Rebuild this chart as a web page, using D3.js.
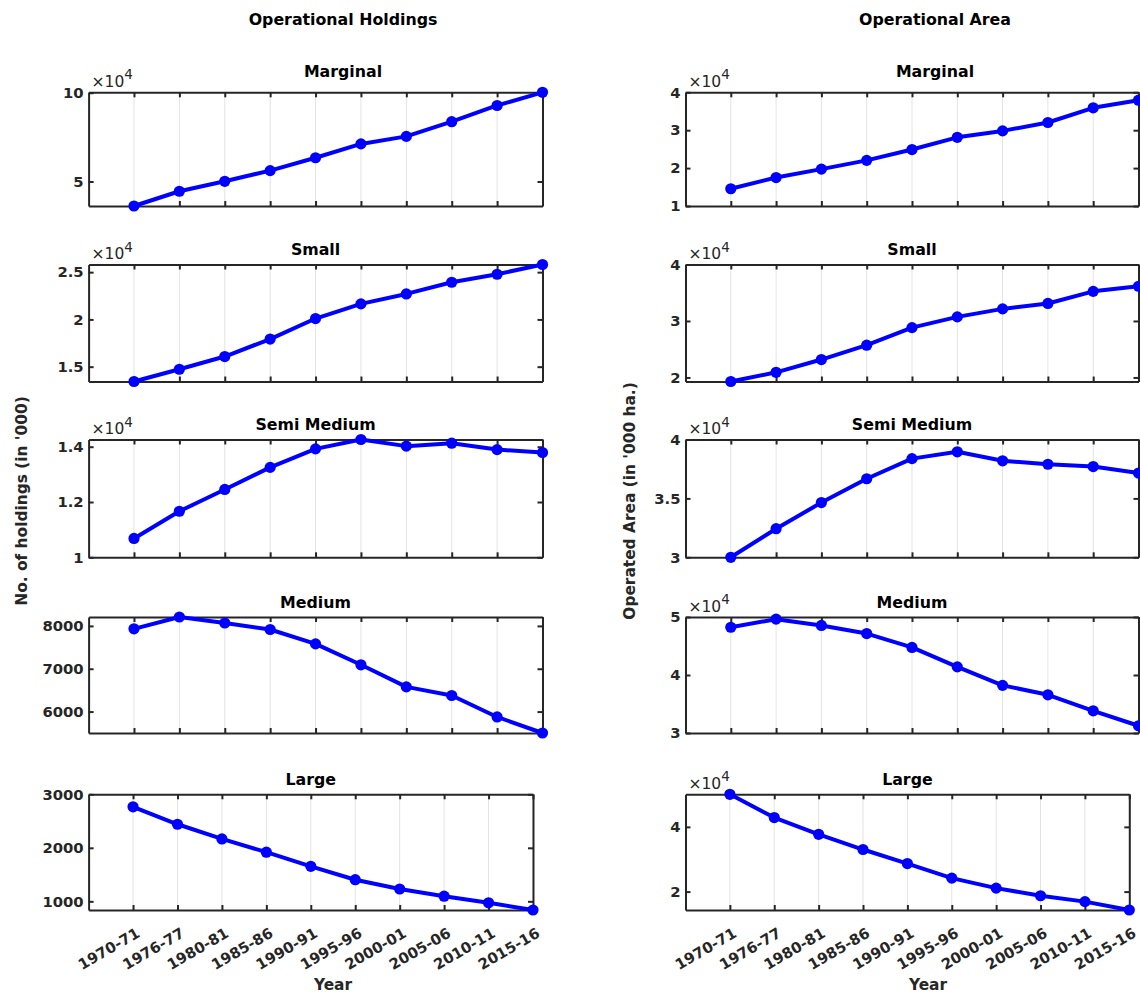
<!DOCTYPE html>
<html>
<head>
<meta charset="utf-8">
<script src="https://cdn.jsdelivr.net/npm/d3@7"></script>
<style>
  body { margin: 0; background: #fff; }
  text { font-family: "DejaVu Sans", sans-serif; }
</style>
</head>
<body>
<script>
// data
const years = ['1970-71', '1976-77', '1980-81', '1985-86', '1990-91', '1995-96', '2000-01', '2005-06', '2010-11', '2015-16'];
const categories = ['Marginal', 'Small', 'Semi Medium', 'Medium', 'Large'];

const holdingsMarginal = [36200, 44523, 50122, 56147, 63389, 71179, 75408, 83694, 92826, 100251];
const holdingsSmall = [13432, 14728, 16072, 17922, 20092, 21643, 22695, 23930, 24779, 25809];
const holdingsSemi = [10681, 11666, 12455, 13252, 13923, 14261, 14021, 14127, 13896, 13790];
const holdingsMedium = [7932, 8208, 8068, 7916, 7580, 7092, 6577, 6375, 5875, 5500];
const holdingsLarge = [2766, 2440, 2166, 1918, 1654, 1404, 1230, 1096, 973, 838];

const areaMarginal = [14545, 17509, 19735, 22042, 24894, 28121, 29814, 32026, 35908, 37923];
const areaSmall = [19282, 20905, 23169, 25708, 28827, 30722, 32139, 33101, 35244, 36151];
const areaSemi = [29999, 32428, 34645, 36666, 38375, 38953, 38193, 37898, 37705, 37150];
const areaMedium = [48234, 49628, 48543, 47144, 44752, 41398, 38217, 36583, 33828, 31250];
const areaLarge = [50064, 42873, 37705, 33002, 28659, 24160, 21072, 18715, 16907, 14314];

// y limits and ticks per panel
const holdingsLimits = [[36200, 100251], [13432, 25809], [10000, 14261], [5500, 8208], [838, 3000]];
const holdingsTicks = [[50000, 100000], [15000, 20000, 25000], [10000, 12000, 14000], [6000, 7000, 8000], [1000, 2000, 3000]];
const holdingsExp = [true, true, true, false, false];

const areaLimits = [[10000, 40000], [19282, 40000], [29999, 40000], [30000, 50000], [14314, 50064]];
const areaTicks = [[10000, 20000, 30000, 40000], [20000, 30000, 40000], [30000, 35000, 40000], [30000, 40000, 50000], [20000, 40000]];
const areaExp = [true, true, true, true, true];

// layout
const rowTop = [92.3, 264.5, 439.5, 617, 794.3];
const rowBottom = [206, 381.5, 557.3, 733, 910];

const svg = d3.select('body')
    .append('svg')
    .attr('width', 1140)
    .attr('height', 994);

const columns = [
    {
        heading: 'Operational Holdings', headX: 343, ylabel: "No. of holdings (in '000)", ylabelX: 27, xlabelX: 333,
        left: 88.6, right: 542.5, lastRight: 533,
        series: [holdingsMarginal, holdingsSmall, holdingsSemi, holdingsMedium, holdingsLarge],
        limits: holdingsLimits, ticks: holdingsTicks, exp: holdingsExp
    },
    {
        heading: 'Operational Area', headX: 935, ylabel: "Operated Area (in '000 ha.)", ylabelX: 635, xlabelX: 928,
        left: 685.5, right: 1138.5, lastRight: 1129.3,
        series: [areaMarginal, areaSmall, areaSemi, areaMedium, areaLarge],
        limits: areaLimits, ticks: areaTicks, exp: areaExp
    }
];

const dark = '#262626';

const drawPanel = (col, row) => {
    const top = rowTop[row];
    const bottom = rowBottom[row];
    const right = row === 4 ? col.lastRight : col.right;
    const values = col.series[row];
    const isLast = row === categories.length - 1;

    const x = d3.scaleLinear().domain([0, 10]).range([col.left, right]);
    const y = d3.scaleLinear().domain(col.limits[row]).range([bottom, top]);

    const g = svg.append('g');

    // vertical grid
    g.selectAll('.grid')
        .data(d3.range(1, 11))
        .enter()
        .append('line')
        .attr('x1', d => x(d)).attr('x2', d => x(d))
        .attr('y1', top).attr('y2', bottom)
        .attr('stroke', '#e3e3e3')
        .attr('stroke-width', 1);

    // axes (ticks inside, box on)
    const fmt = d => col.exp[row] ? String(+(d / 1e4).toFixed(2)) : String(d);

    const axes = [
        g.append('g').attr('transform', `translate(0,${bottom})`)
            .call(d3.axisBottom(x).tickValues(d3.range(1, 11)).tickSize(-5).tickSizeOuter(0)
                .tickFormat(isLast ? (d => years[d - 1]) : '')),
        g.append('g').attr('transform', `translate(0,${top})`)
            .call(d3.axisTop(x).tickValues(d3.range(1, 11)).tickSize(-5).tickSizeOuter(0).tickFormat('')),
        g.append('g').attr('transform', `translate(${col.left},0)`)
            .call(d3.axisLeft(y).tickValues(col.ticks[row]).tickSize(-5).tickSizeOuter(0).tickPadding(5).tickFormat(fmt)),
        g.append('g').attr('transform', `translate(${right},0)`)
            .call(d3.axisRight(y).tickValues(col.ticks[row]).tickSize(-5).tickSizeOuter(0).tickFormat(''))
    ];

    axes.forEach(a => {
        a.select('.domain').attr('stroke', dark).attr('stroke-width', 2);
        a.selectAll('.tick line').attr('stroke', dark).attr('stroke-width', 2);
        a.selectAll('.tick text')
            .attr('fill', dark)
            .attr('font-size', 14.8)
            .attr('font-weight', 'bold')
            .attr('font-family', '"DejaVu Sans", sans-serif');
    });

    // rotated year labels on the bottom panel
    if (isLast) {
        axes[0].selectAll('.tick text')
            .attr('x', 2)
            .attr('y', 17)
            .attr('dy', '0.72em')
            .attr('text-anchor', 'end')
            .attr('transform', 'rotate(-30,2,17)');
    }

    // exponent label
    if (col.exp[row]) {
        const t = g.append('text')
            .attr('x', col.left + 3)
            .attr('y', top - 5.5)
            .attr('fill', dark)
            .attr('font-size', 15.5);
        t.append('tspan').text('×10');
        t.append('tspan').attr('dy', -7.5).attr('font-size', 13.5).text('4');
    }

    // title
    g.append('text')
        .attr('x', row === 0 ? col.headX : (col.left + right) / 2)
        .attr('y', row === 0 ? 76.7 : top - 9.5)
        .attr('text-anchor', 'middle')
        .attr('font-size', 15.8)
        .attr('font-weight', 'bold')
        .attr('fill', '#000')
        .text(categories[row]);

    // line + markers
    const line = d3.line()
        .x((d, i) => x(i + 1))
        .y(d => y(d));

    g.append('path')
        .datum(values)
        .attr('d', line)
        .attr('fill', 'none')
        .attr('stroke', '#0000ff')
        .attr('stroke-width', 4)
        .attr('stroke-linejoin', 'round');

    g.selectAll('.dot')
        .data(values)
        .enter()
        .append('circle')
        .attr('cx', (d, i) => x(i + 1))
        .attr('cy', d => y(d))
        .attr('r', 5.6)
        .attr('fill', '#0000ff');

    if (isLast) {
        g.append('text')
            .attr('x', col.xlabelX)
            .attr('y', 990)
            .attr('text-anchor', 'middle')
            .attr('font-size', 15.4)
            .attr('font-weight', 'bold')
            .attr('fill', dark)
            .text('Year');
    }
};

columns.forEach(col => {
    svg.append('text')
        .attr('x', col.headX)
        .attr('y', 25)
        .attr('text-anchor', 'middle')
        .attr('font-size', 15.8)
        .attr('font-weight', 'bold')
        .attr('fill', '#000')
        .text(col.heading);

    svg.append('text')
        .attr('transform', `translate(${col.ylabelX},501) rotate(-90)`)
        .attr('text-anchor', 'middle')
        .attr('font-size', 15.4)
        .attr('font-weight', 'bold')
        .attr('fill', dark)
        .text(col.ylabel);

    categories.forEach((c, row) => drawPanel(col, row));
});
</script>
</body>
</html>
